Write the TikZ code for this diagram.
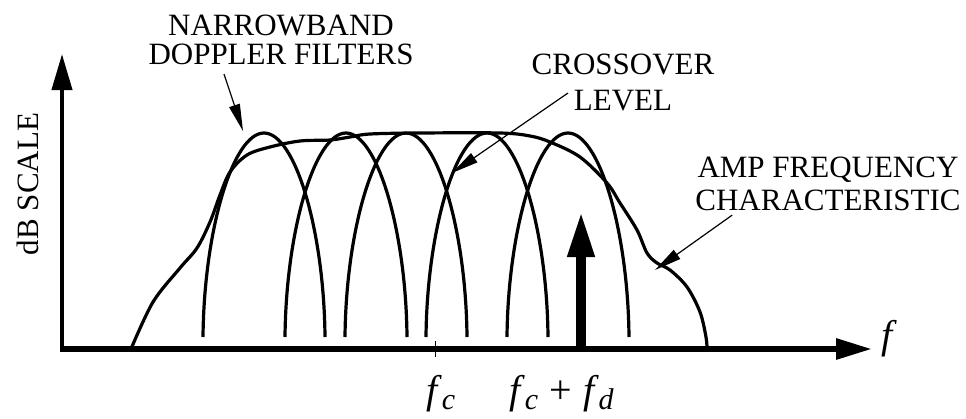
\documentclass[tikz,border=0pt]{standalone}
\usepackage{fontspec}
\setmainfont{Liberation Serif}
\usetikzlibrary{arrows.meta,positioning}
\newcommand{\fsub}[1]{\textit{f}\raisebox{-0.15em}{\fontsize{30}{30}\selectfont\textit{#1}}}

\begin{document}
\begin{tikzpicture}[
            x=1pt, y=-1pt,
            label/.style={font=\fontsize{31}{29}\selectfont, align=center, inner sep=0pt},
            flabel/.style={font=\fontsize{40}{40}\selectfont, inner sep=0pt},
            axis/.style={line width=6pt, -{Triangle[length=36pt,width=20pt]}},
            filter/.style={line width=3.2pt},
            pointer/.style={line width=1.2pt, -{Triangle[length=27pt,width=11pt]}}
        ]
            \useasboundingbox (0,0) rectangle (966,418);

            % Axes
            \coordinate (origin) at (60,349);
            \coordinate (xend) at (872,349);
            \coordinate (ybot) at (62,352);
            \coordinate (yend) at (62,54);
            \draw[axis] (origin) -- (xend);
            \draw[axis, line width=4pt] (ybot) -- (yend);

            % Tick at f_c
            \coordinate (fc) at (435,349);
            \draw[line width=1pt] (fc) ++(0,-8) -- ++(0,16);

            % Doppler filters
            \foreach \p in {264,346,406,487,568}
                \draw[filter] (\p-61,337) .. controls (\p-60,230) and (\p-31,133) .. (\p,133)
                    .. controls (\p+31,133) and (\p+60,230) .. (\p+61,337);

            % Amp characteristic
            \draw[filter] plot[smooth, tension=0.55] coordinates {
                (131,349) (153,302) (180,268) (197,248) (210,222) (220,195) (230,172)
                (247,155) (270,147) (300,141) (330,140) (350,137) (370,134) (420,133)
                (500,133) (530,136) (550,142) (580,157) (607,183) (620,203) (637,230)
                (647,253) (657,263) (670,270) (687,287) (700,312) (706,337) (707,349)};

            % Target return
            \coordinate (fd) at (581,350);
            \coordinate (fdtop) at (581,211);
            \draw[line width=10pt, -{Triangle[length=46pt,width=25pt]}] (fd) -- (fdtop);

            % Labels
            \node[label] (narrow) at (281,40) {NARROWBAND\\DOPPLER FILTERS};
            \node[label, font=\fontsize{31}{36}\selectfont] (cross) at (623,82) {CROSSOVER\\LEVEL};
            \node[label, font=\fontsize{31}{33}\selectfont] (amp) at (828,184) {AMP FREQUENCY\\CHARACTERISTIC};
            \node[label, rotate=90, anchor=base] (db) at (38,184) {dB SCALE};
            \node[flabel, anchor=base west] (f) at (881,348) {\textit{f}};
            \node[flabel, anchor=base west] (fclab) at (426,403) {\fsub{c}};
            \node[flabel, anchor=base west] (fcfdlab) at (509,403) {\fsub{c}\;+\;\fsub{d}};

            % Pointers
            \coordinate (filtertip) at (243,131);
            \coordinate (crosstip) at (452,173);
            \coordinate (amptip) at (655,270);
            \draw[pointer] ([xshift=-57pt,yshift=-9pt]narrow.south) -- (filtertip);
            \draw[pointer] ([xshift=-55pt,yshift=-11pt]cross.center) -- (crosstip);
            \draw[pointer] ([xshift=37pt,yshift=-4pt]amp.south west) -- (amptip);
        \end{tikzpicture}
\end{document}
